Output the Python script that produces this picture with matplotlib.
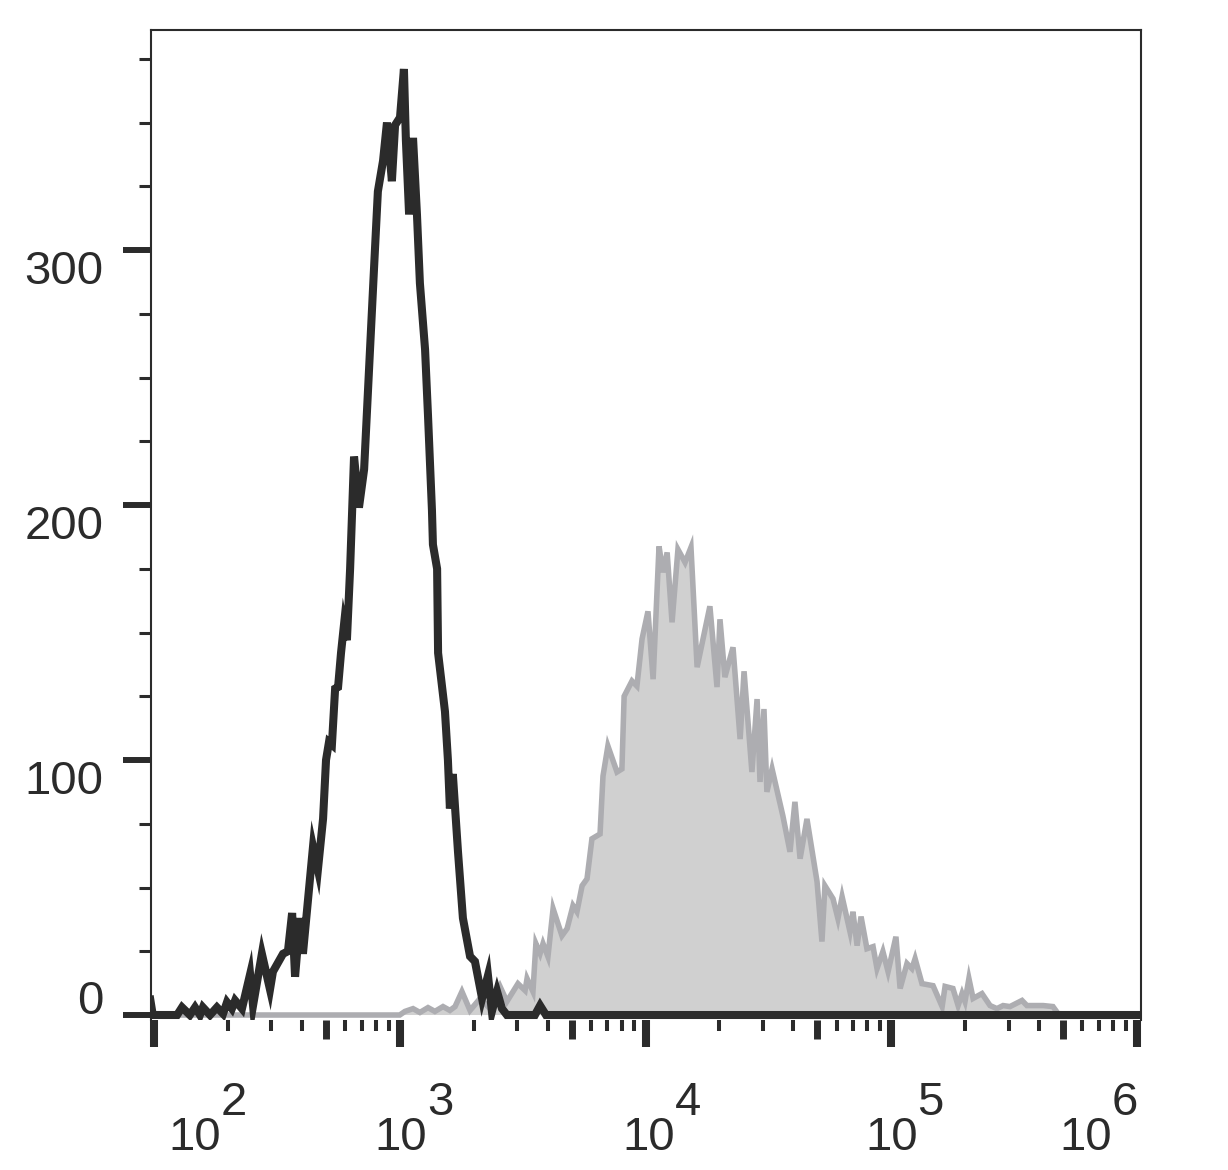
import matplotlib as mpl

mpl.use("Agg")

import matplotlib.pyplot as plt
import matplotlib.ticker as mticker
import matplotlib.transforms as mtransforms

IMAGE_DPI = 100.0

INK = "#2b2b2b"
GRAY_FILL = "#d0d0d0"
GRAY_EDGE = "#adadb1"

# unstained control: log10(fluorescence) and event count
black_log_x = [
    1.985, 1.995, 2.094, 2.114, 2.146, 2.167, 2.187, 2.199, 2.228, 2.256,
    2.281, 2.297, 2.317, 2.330, 2.358, 2.391, 2.403, 2.439, 2.472, 2.484,
    2.525, 2.545, 2.562, 2.574, 2.594, 2.606, 2.647, 2.667, 2.688, 2.700,
    2.712, 2.724, 2.737, 2.749, 2.761, 2.773, 2.785, 2.798, 2.814, 2.834,
    2.855, 2.879, 2.899, 2.911, 2.932, 2.948, 2.968, 2.981, 3.001, 3.017,
    3.025, 3.038, 3.054, 3.070, 3.082, 3.103, 3.115, 3.131, 3.135, 3.152,
    3.156, 3.184, 3.196, 3.204, 3.216, 3.237, 3.257, 3.286, 3.306, 3.335,
    3.359, 3.375, 3.396, 3.416, 3.436, 3.550, 3.571, 3.595, 6.020,
]
black_count = [
    6, 0, 0, 3, 0, 3, 0, 3, 0, 3,
    0.5, 5, 2.5, 5.7, 2.5, 16, 3.7, 24, 10, 17,
    24, 25, 40, 15, 38, 24, 66, 57, 77, 100,
    107, 106, 128, 128.6, 142, 153, 147, 175, 219, 199,
    214, 261, 300, 323, 335, 350, 327, 349, 352, 371,
    343, 314, 344, 314, 287, 261, 235, 198, 184.5, 175,
    142, 119, 100, 81, 94.5, 64, 38, 23, 21, 6.5,
    15.5, 1.4, 9.2, 2.5, 0, 0, 3.7, 0, 0,
]

# stained sample: log10(fluorescence) and event count
gray_log_x = [
    1.985, 3.000, 3.021, 3.054, 3.082, 3.115, 3.143, 3.176, 3.204, 3.225,
    3.253, 3.286, 3.327, 3.367, 3.408, 3.436, 3.481, 3.510, 3.518, 3.542,
    3.554, 3.571, 3.583, 3.603, 3.624, 3.660, 3.681, 3.705, 3.721, 3.742,
    3.762, 3.782, 3.815, 3.827, 3.847, 3.884, 3.904, 3.913, 3.945, 3.965,
    3.986, 4.010, 4.031, 4.055, 4.071, 4.088, 4.108, 4.132, 4.161, 4.185,
    4.210, 4.262, 4.291, 4.303, 4.323, 4.356, 4.385, 4.401, 4.433, 4.454,
    4.466, 4.482, 4.494, 4.515, 4.559, 4.588, 4.608, 4.629, 4.657, 4.698,
    4.718, 4.730, 4.763, 4.783, 4.800, 4.832, 4.844, 4.861, 4.877, 4.901,
    4.926, 4.942, 4.966, 4.987, 5.019, 5.036, 5.064, 5.084, 5.097, 5.125,
    5.170, 5.207, 5.219, 5.251, 5.272, 5.288, 5.300, 5.316, 5.333, 5.369,
    5.402, 5.430, 5.455, 5.483, 5.532, 5.552, 5.585, 5.618, 5.658, 5.679,
    6.020,
]
gray_count = [
    0, 0, 1.4, 2.5, 1, 2.9, 1.4, 3.3, 1.8, 3.3,
    9.2, 1.8, 6.5, 2.5, 11.2, 5.3, 12.3, 9.6, 14.3, 9.2,
    28, 24.1, 28, 22.9, 41.7, 31.1, 33.9, 42.9, 40.5, 50.7,
    53.4, 69.1, 71, 93.7, 105.5, 95.3, 96.5, 125, 131, 129,
    147.5, 158.3, 131.7, 183.8, 173.6, 181.4, 154, 182.6, 177.5, 183.4,
    136.4, 160.3, 128.6, 155.2, 132.5, 144.2, 108.2, 134.8, 95.3, 123.9,
    91.4, 120, 87.5, 96.5, 78.1, 64, 83.6, 61.3, 76.9, 52.3,
    28.8, 50.7, 45.6, 37.8, 46.4, 32.7, 40.5, 27.2, 38.6, 26,
    26.8, 18.2, 24.9, 17, 30.7, 10.4, 20.2, 18.2, 22.1, 12.3,
    11.5, 3.3, 11.2, 10.4, 3.7, 8.4, 5.3, 14.3, 6.5, 8.4,
    3.7, 2.5, 3.7, 3.3, 5.7, 3.7, 3.7, 3.7, 3.3, 0.5,
    0,
]

y_ticks = [0, 100, 200, 300]
y_tick_labels = ["0", "100", "200", "300"]
x_decades = [2, 3, 4, 5, 6]
x_label_shift_px = [41, 1, 3, 0, -51]

plt.rcParams["font.family"] = ["Liberation Sans", "DejaVu Sans"]

fig = plt.figure(figsize=(1228 / IMAGE_DPI, 1170 / IMAGE_DPI), dpi=IMAGE_DPI, facecolor="white")
ax = fig.add_axes([151 / 1228, 150 / 1170, 989.7 / 1228, 990 / 1170])

gx = [10.0**v for v in gray_log_x]
bx = [10.0**v for v in black_log_x]

ax.fill_between(gx, gray_count, 0, facecolor=GRAY_FILL, linewidth=0, zorder=1)
ax.plot(gx, gray_count, color=GRAY_EDGE, linewidth=4.0, solid_joinstyle="miter", zorder=2)
ax.plot(bx, black_count, color=INK, linewidth=5.8, solid_joinstyle="miter", zorder=3)

ax.set_xscale("log")
ax.set_xlim(10**1.9878, 10**6.015)
ax.set_ylim(-1.96, 386.3)

# x ticks: decades long, 5x medium, the rest short
ax.xaxis.set_major_locator(mticker.FixedLocator([10.0**d for d in x_decades]))
ax.xaxis.set_minor_locator(
    mticker.FixedLocator([m * 10.0**d for d in x_decades[:-1] for m in (2, 3, 4, 6, 7, 8, 9)])
)
ax.xaxis.set_major_formatter(mticker.NullFormatter())
ax.xaxis.set_minor_formatter(mticker.NullFormatter())
ax.tick_params(axis="x", which="major", direction="out", length=19.4, width=5.8, color=INK)
ax.tick_params(axis="x", which="minor", direction="out", length=7.9, width=2.9, color=INK)

sec = ax.secondary_xaxis("bottom")
sec.set_xticks([5 * 10.0**d for d in x_decades[:-1]])
sec.xaxis.set_minor_locator(mticker.NullLocator())
sec.xaxis.set_major_formatter(mticker.NullFormatter())
sec.tick_params(axis="x", which="major", direction="out", length=13.7, width=5.0, color=INK)
sec.spines["bottom"].set_visible(False)

ax.yaxis.set_major_locator(mticker.FixedLocator(y_ticks))
ax.yaxis.set_minor_locator(mticker.MultipleLocator(25))
ax.yaxis.set_major_formatter(mticker.NullFormatter())
ax.tick_params(axis="y", which="major", direction="out", length=20, width=4.3, color=INK)
ax.tick_params(axis="y", which="minor", direction="out", length=8.6, width=2.2, color=INK)

ax.spines["bottom"].set_visible(False)
for side in ("left", "top", "right"):
    ax.spines[side].set_color(INK)
    ax.spines[side].set_linewidth(1.5)

# y labels hang below their ticks, except the 0
ytrans = mtransforms.blended_transform_factory(ax.transAxes, ax.transData)
for val, lab in zip(y_ticks, y_tick_labels):
    ypos = 0.4 if val == 0 else val - 13.3
    ax.text(-0.048, ypos, lab, transform=ytrans, ha="right", va="baseline", fontsize=34, color=INK)

# x labels: "10" with a full-size exponent set above right
xtrans = mtransforms.blended_transform_factory(ax.transData, ax.transAxes)
for d, shift in zip(x_decades, x_label_shift_px):
    base = mtransforms.offset_copy(xtrans, fig=fig, x=shift, y=0, units="dots")
    sup = mtransforms.offset_copy(xtrans, fig=fig, x=shift + 26, y=0, units="dots")
    ax.text(10.0**d, -0.1313, "10", transform=base, ha="center", va="baseline", fontsize=34, color=INK, clip_on=False)
    ax.text(10.0**d, -0.0960, str(d), transform=sup, ha="left", va="baseline", fontsize=34, color=INK, clip_on=False)

fig.savefig("out.png", dpi=IMAGE_DPI, facecolor="white")
plt.close(fig)
